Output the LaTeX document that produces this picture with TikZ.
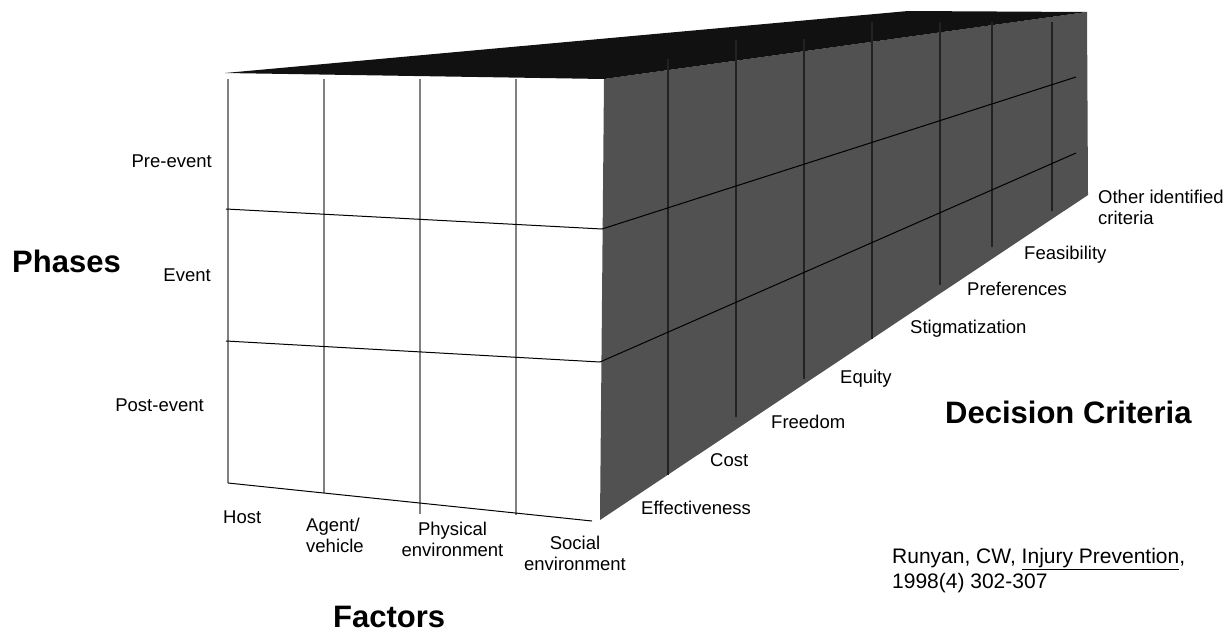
\documentclass[tikz,border=0pt]{standalone}
\usepackage{fontspec}
\setmainfont{Liberation Sans}
\definecolor{topface}{HTML}{111111}
\definecolor{sideface}{HTML}{515151}
\definecolor{frontline}{HTML}{808080}
\definecolor{sideline}{HTML}{222222}
\begin{document}
\begin{tikzpicture}[x=1pt,y=-1pt,
  lbl/.style={inner sep=0pt, font=\fontsize{18.5}{21}\selectfont},
  ref/.style={inner sep=0pt, font=\fontsize{21}{25}\selectfont},
  axistitle/.style={inner sep=0pt, font=\fontsize{31}{36}\selectfont\bfseries},
  frontrule/.style={draw=frontline, line width=1.5pt},
  siderule/.style={draw=sideline, line width=1.5pt},
  gridrule/.style={draw=black, line width=1pt}]
\useasboundingbox (0,0) rectangle (1226,633);

% corners of the box
\coordinate (topL)   at (225,73);
\coordinate (frontTR) at (604,79);
\coordinate (backTR) at (1087,12);
\coordinate (backTL) at (908,11);
\coordinate (backBR) at (1088,195);
\coordinate (frontBR) at (600,520);

% side face (decision criteria) and top face
\fill[sideface] (frontTR) -- (backTR) -- (backBR) -- (frontBR) -- cycle;
\fill[topface] (topL) -- (frontTR) -- (backTR) -- (backTL) -- cycle;

% vertical rules on the side face
\foreach \x/\ya/\yb in {668/59/475, 736/40/417, 804/39/379, 872/22/339,
                        940/22/285, 992/22/247, 1052/22/211}
  \draw[siderule] (\x,\ya) -- (\x,\yb);

% vertical rules on the front face
\coordinate (f1t) at (228,79);  \coordinate (f1b) at (228,483);
\coordinate (f2t) at (324,79);  \coordinate (f2b) at (324,493);
\coordinate (f3t) at (420,79);  \coordinate (f3b) at (420,514);
\coordinate (f4t) at (516,79);  \coordinate (f4b) at (516,515);
\draw[frontrule] (f1t) -- (f1b);
\draw[frontrule] (f2t) -- (f2b);
\draw[frontrule] (f3t) -- (f3b);
\draw[frontrule] (f4t) -- (f4b);

% phase boundaries wrapping around the box
\coordinate (h1a) at (226,209); \coordinate (h1b) at (602,229); \coordinate (h1c) at (1076,77);
\coordinate (h2a) at (226,341); \coordinate (h2b) at (600,362); \coordinate (h2c) at (1076,153);
\draw[gridrule] (h1a) -- (h1b) -- (h1c);
\draw[gridrule] (h2a) -- (h2b) -- (h2c);

% bottom edge of the front face
\coordinate (b1) at (228,483); \coordinate (b2) at (592,521);
\draw[gridrule] (b1) -- (b2);

% phases
\node[lbl, anchor=base east] (pre)  at (212,167) {Pre-event};
\node[lbl, anchor=base east] (ev)   at (211,281) {Event};
\node[lbl, anchor=base east] (post) at (204,411) {Post-event};
\node[axistitle, anchor=base west] (phases) at (12,272) {Phases};

% factors
\node[lbl, anchor=base west] (host) at (223,523) {Host};
\node[lbl, anchor=north west, align=left] (agent) at (306,518) {Agent/\\vehicle};
\node[lbl, anchor=north, align=center] (phys) at (452.5,522) {Physical\\environment};
\node[lbl, anchor=north, align=center] (soc) at (575,536) {Social\\environment};
\node[axistitle, anchor=base west] (factors) at (333,627) {Factors};

% decision criteria
\node[lbl, anchor=base west] (eff)  at (641,514) {Effectiveness};
\node[lbl, anchor=base west] (cost) at (710,466) {Cost};
\node[lbl, anchor=base west] (free) at (771,428) {Freedom};
\node[lbl, anchor=base west] (equ)  at (840,383) {Equity};
\node[lbl, anchor=base west] (stig) at (910,333) {Stigmatization};
\node[lbl, anchor=base west] (pref) at (967,295) {Preferences};
\node[lbl, anchor=base west] (feas) at (1024,259) {Feasibility};
\node[lbl, anchor=north west, align=left] (other) at (1098,190) {Other identified\\criteria};
\node[axistitle, anchor=base west] (crit) at (945,423) {Decision Criteria};

% source
\node[ref, anchor=north west, align=left] (src) at (892,548)
  {Runyan, CW, \underline{Injury Prevention},\\1998(4) 302-307};
\end{tikzpicture}
\end{document}
